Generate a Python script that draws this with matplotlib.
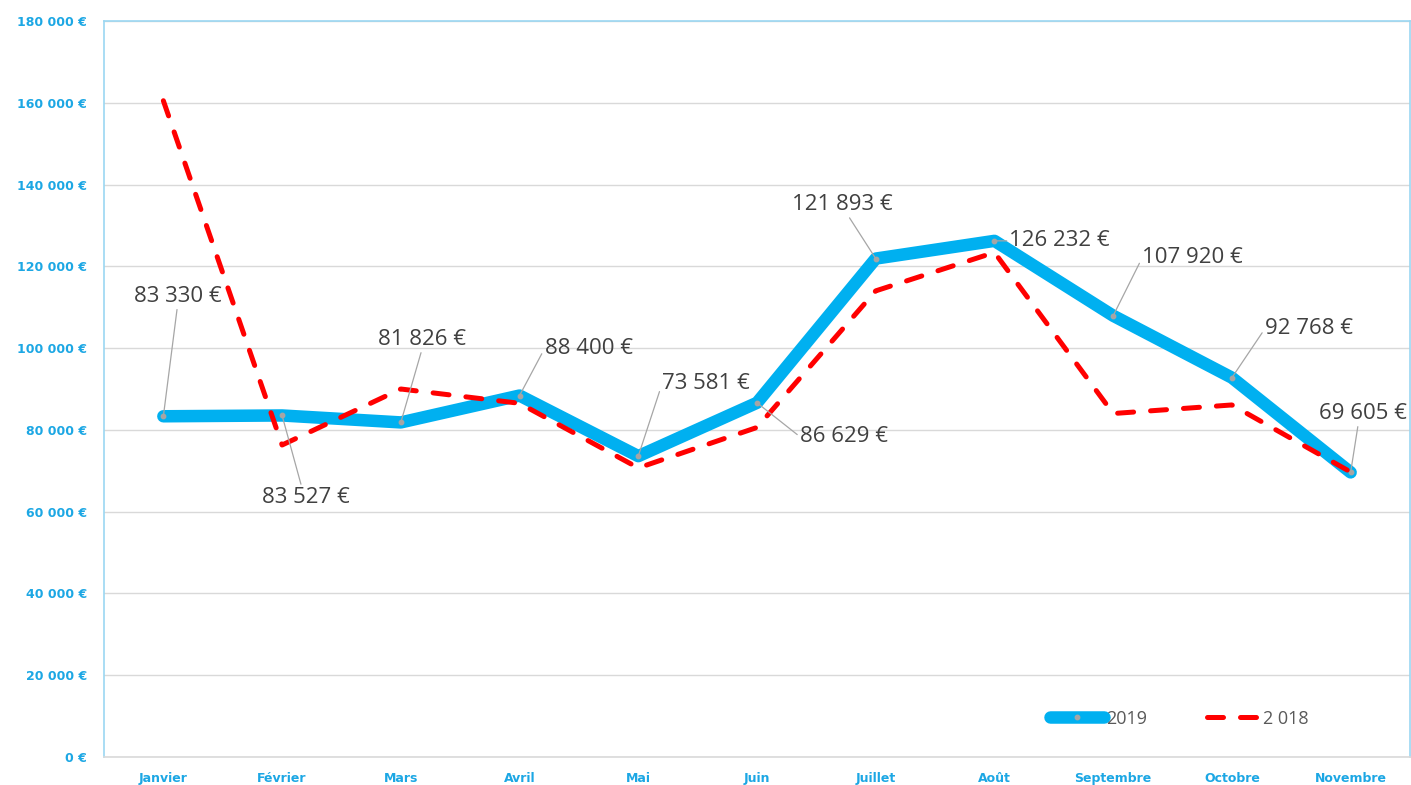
import matplotlib
matplotlib.use("Agg")
import matplotlib.pyplot as plt
from matplotlib.ticker import FuncFormatter, MultipleLocator

months = ["Janvier", "Février", "Mars", "Avril", "Mai", "Juin", "Juillet",
          "Août", "Septembre", "Octobre", "Novembre"]
sales_2019 = [83330, 83527, 81826, 88400, 73581, 86629, 121893, 126232,
              107920, 92768, 69605]
sales_2018 = [160500, 76300, 90000, 86500, 70700, 80600, 114000, 123400,
              84000, 86100, 69700]
labels_2019 = ["83 330 €", "83 527 €", "81 826 €", "88 400 €", "73 581 €",
               "86 629 €", "121 893 €", "126 232 €", "107 920 €", "92 768 €",
               "69 605 €"]

# label layout: (dx, dy) in pixels, horizontal alignment, leader attach point
label_layout = [
    ((14, 120), "center", (0.5, 0.0)),
    ((24, -82), "center", (0.45, 1.0)),
    ((21, 83), "center", (0.5, 0.0)),
    ((25, 47), "left", (0.0, 0.5)),
    ((24, 73), "left", (0.0, 0.5)),
    ((43, -34), "left", (0.0, 0.5)),
    ((-33, 54), "center", (0.55, 0.0)),
    ((15, 0), "left", (0.0, 0.5)),
    ((29, 58), "left", (0.0, 0.5)),
    ((33, 49), "left", (0.0, 0.5)),
    ((12, 59), "center", (0.45, 0.0)),
]

W, H, DPI = 1411, 785, 100
fig = plt.figure(figsize=(W / DPI, H / DPI), dpi=DPI)
ax = fig.add_axes([104 / W, 28 / H, 1306 / W, 736 / H])

blue = "#00B0F0"
tick_blue = "#1CA7E4"
x = list(range(len(months)))

ax.plot(x, sales_2019, color=blue, lw=9.0, solid_capstyle="round",
        solid_joinstyle="round", marker="o", ms=3.2, mfc="#A5A5A5",
        mec="#A5A5A5", zorder=3, label="2019")
ax.plot(x, sales_2018, color="#FF0000", lw=3.6, dashes=(3.2, 3.4),
        dash_capstyle="round", zorder=4, label="2 018")

for i, (v, txt) in enumerate(zip(sales_2019, labels_2019)):
    (dx, dy), ha, rel = label_layout[i]
    ax.annotate(txt, xy=(i, v), xytext=(dx, dy), textcoords="offset pixels",
                ha=ha, va="center", fontsize=16, color="#404040",
                family="Open Sans", zorder=6,
                arrowprops=dict(arrowstyle="-", color="#A6A6A6", lw=0.9,
                                shrinkA=0, shrinkB=0, relpos=rel))

ax.set_xlim(-0.5, len(months) - 0.5)
ax.set_ylim(0, 180000)
ax.yaxis.set_major_locator(MultipleLocator(20000))
ax.yaxis.set_major_formatter(FuncFormatter(
    lambda v, p: (f"{int(v):,}".replace(",", " ") + " €")))
ax.set_xticks(x)
ax.set_xticklabels(months)
ax.tick_params(axis="both", length=0, labelcolor=tick_blue)
ax.tick_params(axis="y", labelsize=9, pad=12)
ax.tick_params(axis="x", labelsize=9, pad=11)
for lab in ax.get_xticklabels() + ax.get_yticklabels():
    lab.set_fontweight("bold")

ax.grid(axis="y", color="#D9D9D9", lw=1)
ax.set_axisbelow(True)
for s in ["left", "top", "right"]:
    ax.spines[s].set_color("#9BD7F2")
    ax.spines[s].set_linewidth(1.2)
ax.spines["bottom"].set_color("#D9D9D9")
ax.spines["bottom"].set_linewidth(1.2)

leg = ax.legend(loc="center left", bbox_to_anchor=(0.712, 0.052), ncol=2,
                frameon=False, handlelength=3.0, handletextpad=0.1,
                columnspacing=3.3, prop=dict(family="Open Sans", size=13))
for t in leg.get_texts():
    t.set_color("#595959")

fig.savefig("out.png", dpi=DPI)
